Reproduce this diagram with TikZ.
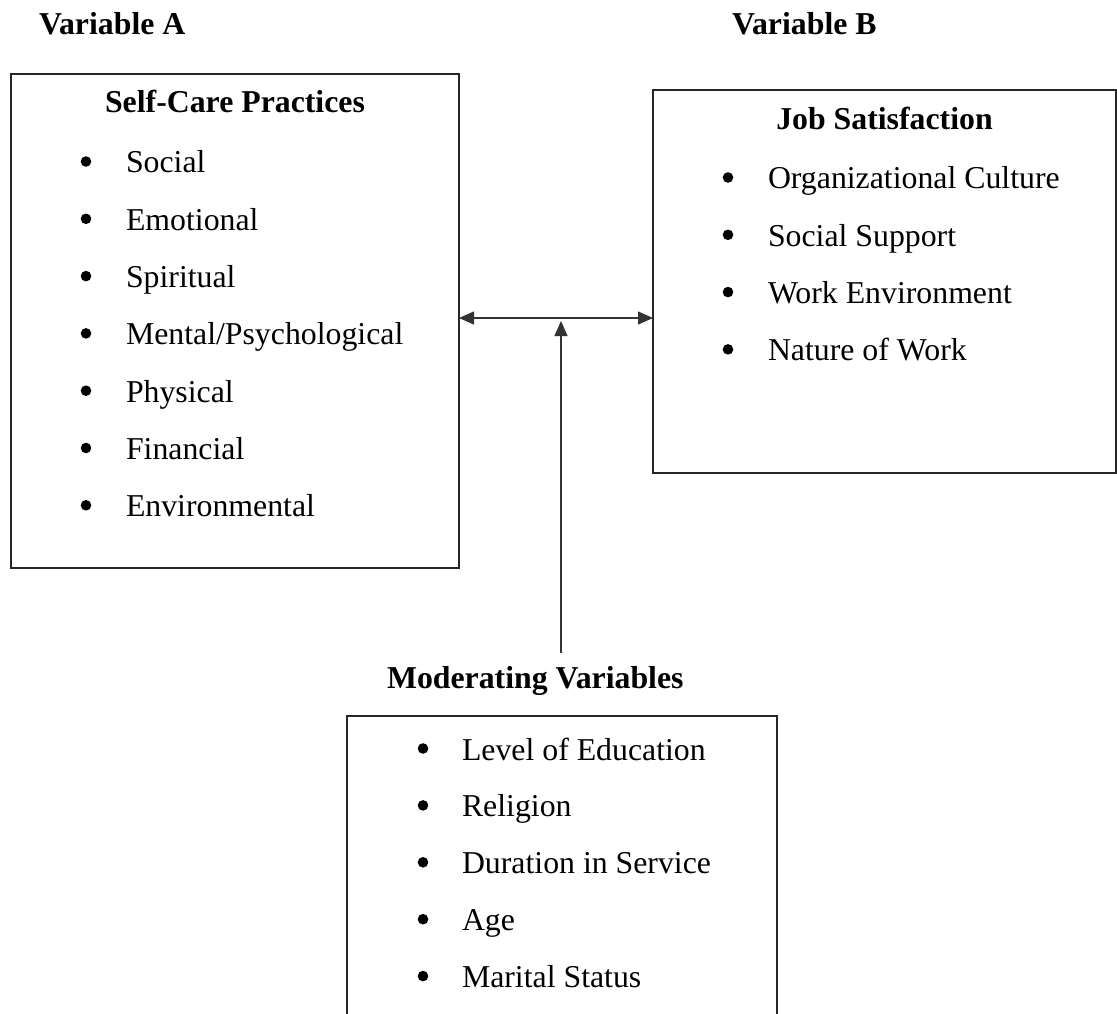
\documentclass[tikz,border=0pt]{standalone}
\usepackage{fontspec}
\setmainfont{Liberation Serif}
\usetikzlibrary{arrows.meta}

\begin{document}
\begin{tikzpicture}[x=1pt, y=-1pt,
  every node/.style={inner sep=0pt, outer sep=0pt, font=\fontsize{31.8}{38}\selectfont},
  heading/.style={anchor=base west, font=\fontsize{31.8}{38}\selectfont\bfseries},
  boxtitle/.style={anchor=base, font=\fontsize{31.8}{38}\selectfont\bfseries},
  item/.style={anchor=base west},
  bulletmark/.style={circle, fill=black, minimum size=10.6pt},
  framebox/.style={draw=black!85, line width=1.2pt, anchor=north west},
  link/.style={draw=black!80, line width=1.2pt},
  tip/.style={-{Triangle[length=15pt,width=13pt]}},
  twotips/.style={{Triangle[length=15pt,width=13pt]}-{Triangle[length=15pt,width=13pt]}}
]
\useasboundingbox (0,0) rectangle (1117,1014);

% column headings
\node[heading] (varA) at (39,35) {Variable A};
\node[heading] (varB) at (732,35) {Variable B};

% left box: self-care practices
\node[framebox, minimum width=448pt, minimum height=494pt] (boxA) at (11,74) {};
\node[boxtitle] (titleA) at (235,113) {Self-Care Practices};
\foreach \t [count=\i] in {Social, Emotional, Spiritual, Mental/Psychological, Physical, Financial, Environmental}{
  \node[bulletmark] (bA\i) at (86,{173+57.3*(\i-1)-11.5}) {};
  \node[item] (iA\i) at (126,{173+57.3*(\i-1)}) {\t};
}

% right box: job satisfaction
\node[framebox, minimum width=463pt, minimum height=383pt] (boxB) at (653,90) {};
\node[boxtitle] (titleB) at (884.5,130) {Job Satisfaction};
\foreach \t [count=\i] in {Organizational Culture, Social Support, Work Environment, Nature of Work}{
  \node[bulletmark] (bB\i) at (728,{189+57.3*(\i-1)-11.5}) {};
  \node[item] (iB\i) at (768,{189+57.3*(\i-1)}) {\t};
}

% moderating variables
\node[heading] (modT) at (387,688) {Moderating Variables};
\draw[draw=black!85, line width=1.2pt] (347,1014) -- (347,716) -- (777,716) -- (777,1014);
\foreach \t [count=\i] in {Level of Education, Religion, Duration in Service, Age, Marital Status}{
  \node[bulletmark] (bC\i) at (423,{760+56.9*(\i-1)-11.5}) {};
  \node[item] (iC\i) at (462,{760+56.9*(\i-1)}) {\t};
}

% connectors
\coordinate (linkY) at (561,318);
\draw[link, twotips] (linkY -| boxA.east) -- (linkY -| boxB.west);
\coordinate (vBase) at (561,653);
\coordinate (vTip) at (561,321);
\draw[link, tip] (vBase) -- (vTip);
\end{tikzpicture}
\end{document}
